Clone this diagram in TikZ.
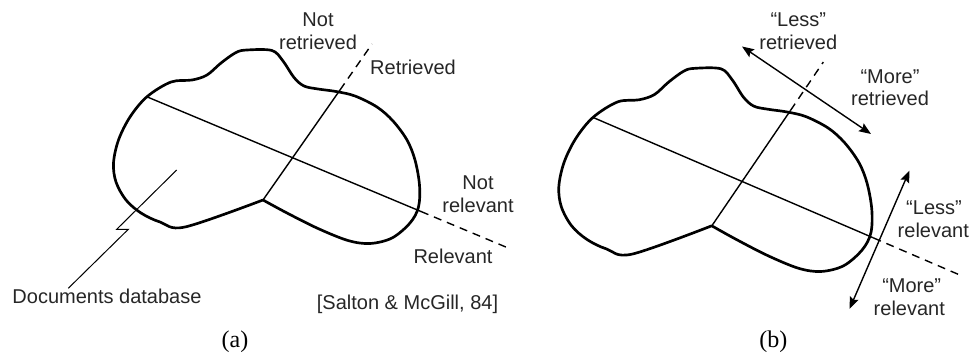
\documentclass[tikz,border=0pt]{standalone}
\usepackage{fontspec}
\setmainfont{Liberation Sans}
\newfontfamily\capfont{Liberation Serif}
\usetikzlibrary{arrows.meta}
\tikzset{
  blob/.style={line width=2pt, line join=round, line cap=round},
  divline/.style={line width=1.05pt},
  dashline/.style={line width=1.05pt, dash pattern=on 6pt off 4.5pt},
  pointer/.style={line width=0.75pt},
  lbl/.style={inner sep=0pt, anchor=base, font=\fontsize{15}{17}\selectfont, text=black!85},
  caplbl/.style={inner sep=0pt, anchor=base, font=\capfont\fontsize{18}{20}\selectfont},
  dblarrow/.style={line width=1.05pt, {Stealth[length=9pt,width=7pt,inset=1.5pt]}-{Stealth[length=9pt,width=7pt,inset=1.5pt]}}
}
\newcommand{\blobfig}[1]{%
  \draw[blob] plot[smooth, tension=0.55] coordinates {(263,200) (287,213) (318,228.5) (348,240.5) (370,243.5) (392,238) (410,223) (418.5,207) (419.5,185) (415,160) (407,140) (393,121) (377,107) (355,96) (336,91.5) (318,89) (304,86) (294,77.5) (283,61) (272,50.5) (247,50) (236,52.5) (221,63) (207,75) (192,80) (171,82) (147,96.7) (130,117) (118.5,140) (113.5,163) (116,182) (126,200) (141,213) (160,222) (185,227) (263,200)};
  \coordinate (#1d1) at (146.7,96.7);
  \coordinate (#1d2) at (421,211.5);
  \coordinate (#1d3) at (507,247.5);
  \coordinate (#1n) at (263,200);
  \coordinate (#1r2) at (340,90);
  \coordinate (#1r3) at (372,44);
  \draw[divline] (#1d1) -- (#1d2);
  \draw[dashline] (#1d2) -- (#1d3);
  \draw[divline] (#1n) -- (#1r2);
  \draw[dashline] (#1r2) -- (#1r3);
}
\begin{document}
\begin{tikzpicture}[x=0.75pt,y=-0.75pt]
\useasboundingbox (0,0) rectangle (972,356);
% ---------- (a) ----------
\begin{scope}
  \blobfig{a}
\end{scope}
\node[lbl] (anot) at (318,27) {Not};
\node[lbl] (aret) at (318,49.5) {retrieved};
\node[lbl] (aRet) at (413,75) {Retrieved};
\node[lbl] (anotr) at (478,190) {Not};
\node[lbl] (arel) at (478,213) {relevant};
\node[lbl] (aRel) at (453,264) {Relevant};
\node[lbl] (db) at (107,304) {Documents database};
\node[lbl] (src) at (407.5,310) {[Salton \& McGill, 84]};
\node[caplbl] (capa) at (235,347) {(a)};
\coordinate (dbp) at (176.7,170);
\coordinate (dbz1) at (116.7,229.3);
\coordinate (dbz2) at (128.3,229.3);
\coordinate (dbe) at (68.3,288.3);
\draw[pointer] (dbp) -- (dbz1) -- (dbz2) -- (dbe);
% ---------- (b) ----------
\begin{scope}[shift={(442.7,15.8)}, xscale=1.023, yscale=1.05]
  \blobfig{b}
\end{scope}
\coordinate (rtA) at (742,46.5);
\coordinate (rtB) at (871,134);
\draw[dblarrow] (rtA) -- (rtB);
\coordinate (rlA) at (849.5,309);
\coordinate (rlB) at (909.5,170.5);
\draw[dblarrow] (rlA) -- (rlB);
\node[lbl] (bless1) at (798.3,27) {“Less”};
\node[lbl] (bret1) at (798.3,49.5) {retrieved};
\node[lbl] (bmore1) at (890,83.5) {“More”};
\node[lbl] (bret2) at (890,106) {retrieved};
\node[lbl] (bless2) at (934,215) {“Less”};
\node[lbl] (brel1) at (933.3,238) {relevant};
\node[lbl] (bmore2) at (911.7,292) {“More”};
\node[lbl] (brel2) at (909.3,315.5) {relevant};
\node[caplbl] (capb) at (773.3,347) {(b)};
\end{tikzpicture}
\end{document}
